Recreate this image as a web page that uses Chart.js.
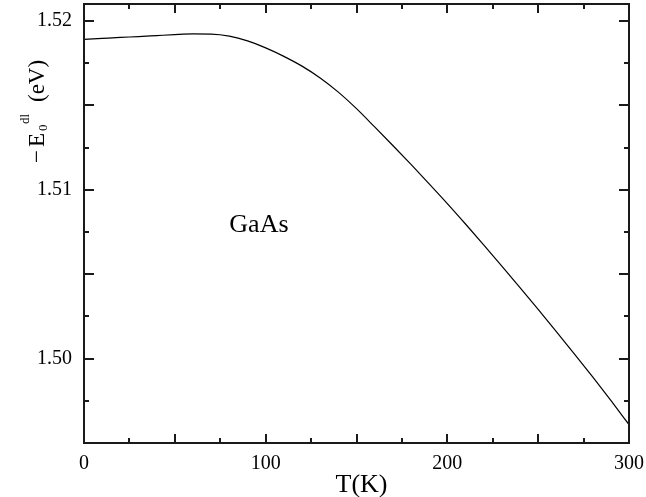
<!DOCTYPE html>
<html>
<head>
<meta charset="utf-8">
<script src="https://cdn.jsdelivr.net/npm/chart.js@4/dist/chart.umd.min.js"></script>
<style>
  body { margin: 0; background: #fff; }
  #wrap { width: 646px; height: 497px; }
</style>
</head>
<body>
<div id="wrap"><canvas id="cntx_gap"></canvas></div>
<script>
// T (K) and -E0^dl (eV)
const temps = [0, 10, 20, 30, 40, 50, 60, 70, 80, 90, 100, 110, 120, 130, 140, 150,
	160, 170, 180, 190, 200, 210, 220, 230, 240, 250, 260, 270, 280, 290, 300];
const energies = [1.51890, 1.51896, 1.51902, 1.51907, 1.51913, 1.51919, 1.51923, 1.51922,
	1.51910, 1.51882, 1.51840, 1.51790, 1.51732, 1.51662, 1.51578, 1.51480,
	1.51372, 1.51262, 1.51150, 1.51035, 1.50918, 1.50797, 1.50673, 1.50547,
	1.50420, 1.50291, 1.50160, 1.50027, 1.49891, 1.49752, 1.49609];

const xTicks = [0, 25, 50, 75, 100, 125, 150, 175, 200, 225, 250, 275, 300];
const xLabels = [0, 100, 200, 300];
const yTicks = [1.4975, 1.5, 1.5025, 1.505, 1.5075, 1.51, 1.5125, 1.515, 1.5175, 1.52];
const yLabels = [1.50, 1.51, 1.52];

const serif = "'Liberation Serif', 'Times New Roman', serif";

const isLabel = (list, v) => list.some((l) => Math.abs(l - v) < 1e-7);

// frame, inward ticks and extra text
const framePlugin = {
	id: "frame",
	afterDraw: (chart) => {
		const { ctx, chartArea: a, scales } = chart;
		const x = scales.x;
		const y = scales.y;
		ctx.save();
		ctx.strokeStyle = "#1a1a1a";
		ctx.lineWidth = 2;
		ctx.strokeRect(a.left, a.top, a.right - a.left, a.bottom - a.top);

		ctx.beginPath();
		xTicks.forEach((v) => {
			if (v === 0 || v === 300) return;
			const px = Math.round(x.getPixelForValue(v));
			const len = v % 50 === 0 ? 9 : 5;
			ctx.moveTo(px, a.bottom);
			ctx.lineTo(px, a.bottom - len);
			ctx.moveTo(px, a.top);
			ctx.lineTo(px, a.top + len);
		});
		yTicks.forEach((v) => {
			const py = Math.round(y.getPixelForValue(v));
			const major = Math.abs(v * 200 - Math.round(v * 200)) < 1e-6;
			const len = major ? 10 : 5;
			ctx.moveTo(a.left, py);
			ctx.lineTo(a.left + len, py);
			ctx.moveTo(a.right, py);
			ctx.lineTo(a.right - len, py);
		});
		ctx.stroke();

		ctx.fillStyle = "#000";
		ctx.textBaseline = "alphabetic";
		ctx.textAlign = "left";
		ctx.font = "26px " + serif;
		ctx.fillText("GaAs", x.getPixelForValue(80), y.getPixelForValue(1.5075));

		ctx.textAlign = "center";
		ctx.fillText("T(K)", (a.left + a.right) / 2 + 5, 492);

		// y title: -E0^dl(eV)
		ctx.translate(44, 163);
		ctx.rotate(-Math.PI / 2);
		ctx.textAlign = "left";
		ctx.font = "23px " + serif;
		ctx.fillText("\u2212", 0, 0);
		ctx.fillText("E", 16, 0);
		ctx.font = "13px " + serif;
		ctx.fillText("0", 32, 3);
		ctx.fillText("dl", 39, -15);
		ctx.font = "23px " + serif;
		ctx.fillText("(eV)", 61, 0);
		ctx.restore();
	},
};

const canvas = document.querySelector("#cntx_gap");
const myChart = new Chart(canvas, {
	type: "line",
	data: {
		datasets: [
			{
				label: "GaAs",
				data: temps.map((t, i) => ({ x: t, y: energies[i] })),
				borderColor: "#000",
				borderWidth: 1.2,
				pointRadius: 0,
				fill: false,
				cubicInterpolationMode: "monotone",
			},
		],
	},
	options: {
		responsive: true,
		maintainAspectRatio: false,
		animation: false,
		layout: { padding: { left: 0, top: 4, right: 17, bottom: 0 } },
		plugins: {
			legend: { display: false },
			tooltip: { enabled: false },
		},
		scales: {
			x: {
				type: "linear",
				min: 0,
				max: 300,
				grid: { display: false, drawTicks: false },
				border: { display: false },
				afterBuildTicks: (scale) => {
					scale.ticks = xTicks.map((v) => ({ value: v }));
				},
				afterFit: (scale) => {
					scale.height = 54;
					scale.paddingLeft = 0;
					scale.paddingRight = 0;
				},
				ticks: {
					padding: 9,
					maxRotation: 0,
					autoSkip: false,
					color: "#000",
					font: { family: serif, size: 20 },
					callback: (v) => (isLabel(xLabels, v) ? String(v) : ""),
				},
			},
			y: {
				type: "linear",
				min: 1.495,
				max: 1.521,
				grid: { display: false, drawTicks: false },
				border: { display: false },
				afterBuildTicks: (scale) => {
					scale.ticks = yTicks.map((v) => ({ value: v }));
				},
				afterFit: (scale) => {
					scale.width = 84;
					scale.paddingTop = 0;
					scale.paddingBottom = 0;
				},
				ticks: {
					padding: 12,
					autoSkip: false,
					color: "#000",
					font: { family: serif, size: 20 },
					callback: (v) => (isLabel(yLabels, v) ? v.toFixed(2) : ""),
				},
			},
		},
	},
	plugins: [framePlugin],
});
</script>
</body>
</html>
